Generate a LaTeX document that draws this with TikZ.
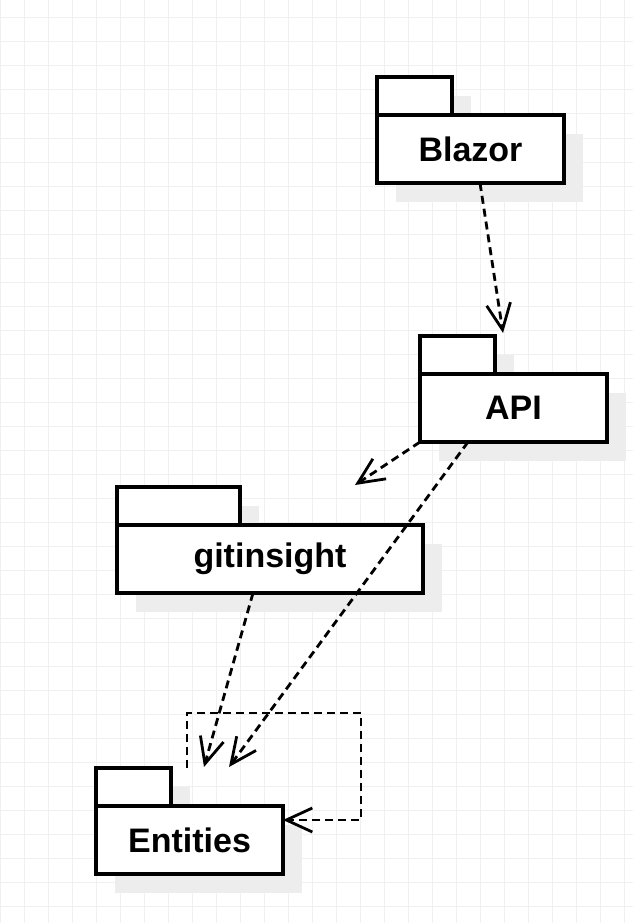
\documentclass[tikz,border=0pt]{standalone}
\usepackage{fontspec}
\setmainfont{Liberation Sans}
\usetikzlibrary{positioning}
\usetikzlibrary{calc}
\usetikzlibrary{shadows}
\usetikzlibrary{arrows.meta}

\begin{document}
\begin{tikzpicture}[x=1pt,y=-1pt,
	pkg shadow/.style={drop shadow={shadow xshift=19pt,shadow yshift=-19pt,fill=black!7,draw=none,opacity=1}},
	pkg tab/.style={draw,fill=white,line width=3.3pt,minimum height=38pt,inner sep=0pt,outer sep=0pt,anchor=north west,pkg shadow},
	pkg node/.style={draw,fill=white,line width=3.3pt,minimum height=68pt,inner sep=0pt,outer sep=0pt,
		font=\bfseries\fontsize{34}{40}\selectfont,pkg shadow},
	dep/.style={line width=2.8pt,dash pattern=on 8pt off 5pt,-{Straight Barb[length=26pt,width=24pt,line width=2.8pt]}},
	gridline/.style={draw=black!6,line width=1pt}]
	
	\useasboundingbox (0,0) rectangle (633,923);
	
	% background grid
	\foreach \gx in {0,24,...,624}
		\draw[gridline] (\gx,0) -- (\gx,923);
	\foreach \gy in {18,42,...,906}
		\draw[gridline] (0,\gy) -- (633,\gy);
	
	% packages
	\node[pkg tab,minimum width=75pt] (blazortab) at (377,77) {};
	\node[pkg node,minimum width=187pt,below right=0pt and 0pt of blazortab.south west] (blazor) {Blazor};
	
	\node[pkg tab,minimum width=75pt] (apitab) at (420,336) {};
	\node[pkg node,minimum width=187pt,below right=0pt and 0pt of apitab.south west] (api) {API};
	
	\node[pkg tab,minimum width=123pt] (gittab) at (117,487) {};
	\node[pkg node,minimum width=306pt,below right=0pt and 0pt of gittab.south west] (git) {gitinsight};
	
	\node[pkg tab,minimum width=75pt] (enttab) at (96,768) {};
	\node[pkg node,minimum width=187pt,below right=0pt and 0pt of enttab.south west] (ent) {Entities};
	
	% dependencies
	\draw[dep] ($(blazor.south)+(9.5,0)$) -- ($(api.north)+(-10.5,-41)$);
	\draw[dep] (api.south west) -- ($(git.north east)+(-68,-40)$);
	\draw[dep] ($(api.south west)+(48,0)$) -- ($(ent.north west)+(133,-39)$);
	\draw[dep] ($(git.south west)+(136,0)$) -- ($(ent.north west)+(108,-39)$);
	\draw[dep] ($(ent.north west)+(91,-38)$) |- ($(ent.north east)+(78,-93)$) |- ($(ent.north east)+(0,14)$);
\end{tikzpicture}
\end{document}
